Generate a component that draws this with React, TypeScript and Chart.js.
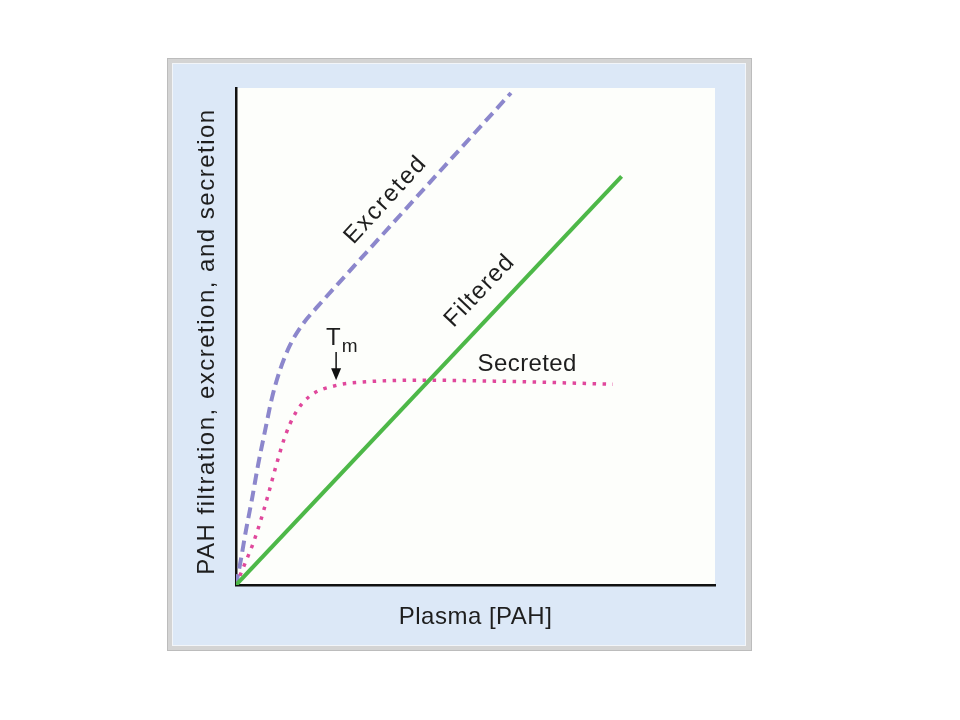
import React, { useEffect, useRef } from 'react';
import { Chart, registerables } from 'chart.js';
Chart.register(...registerables);

// Series (x = plasma [PAH], y = PAH amount, arbitrary 0-100 units)
const filteredX = [0, 80.5];
const filteredY = [0, 82.2];

const secretedX = [0, 1.9, 3.5, 5.0, 6.7, 8.4, 10.2, 12.3, 15.4, 21.1, 25.9, 38.4, 55.1, 78.7];
const secretedY = [0, 4.4, 8.2, 12.5, 18.1, 24.1, 29.8, 34.4, 38.0, 40.2, 40.8, 41.2, 41.0, 40.4];

const excretedX = [0, 1.0, 2.1, 3.3, 4.6, 6.1, 7.5, 9.2, 11.3, 13.8, 17.1, 21.3, 57.4];
const excretedY = [0, 5.0, 11.1, 17.1, 24.1, 31.2, 37.6, 43.3, 48.3, 52.3, 56.1, 60.6, 99.0];

// Annotations (data coordinates)
const labelTexts = ['Excreted', 'Filtered', 'Secreted'];
const labelX = [31.3, 50.9, 60.8];
const labelY = [77.5, 59.2, 44.3];
const labelAngle = [-47.5, -46.5, 0];
const tmX = 18.8;
const tmY = 48.3;
const tmSubX = 22.1;
const tmSubY = 46.9;
const arrowX = 20.9;
const arrowTop = 46.9;
const arrowTip = 41.2;

const xTitle = 'Plasma [PAH]';
const yTitle = 'PAH filtration, excretion, and secretion';

const FONT = '"Liberation Sans", Arial, Helvetica, sans-serif';

function drawText(ctx: CanvasRenderingContext2D, text: string, x: number, y: number, size: number, spacing: number, angle: number, align: CanvasTextAlign = 'center', baseline: CanvasTextBaseline = 'middle') {
  ctx.save();
  ctx.translate(x, y);
  ctx.rotate((angle * Math.PI) / 180);
  ctx.font = `${size}px ${FONT}`;
  (ctx as any).letterSpacing = spacing + 'px';
  ctx.textAlign = align;
  ctx.textBaseline = baseline;
  ctx.fillStyle = '#1e1e1e';
  ctx.fillText(text, 0, 0);
  ctx.restore();
}

const annotatePlugin = {
  id: 'annotate',
  beforeDraw(chart: any) {
    const { ctx, chartArea: a } = chart;
    ctx.save();
    ctx.fillStyle = '#fdfefb';
    ctx.fillRect(a.left, a.top, a.right - a.left, a.bottom - a.top);
    ctx.restore();
  },
  afterDraw(chart: any) {
    const { ctx, chartArea: a, scales } = chart;
    const xs = scales.x;
    const ys = scales.y;
    const spacings = [2.0, 1.3, 0.4];
    const sizes = [24, 24, 24];
    labelTexts.forEach((t, i) => {
      drawText(ctx, t, xs.getPixelForValue(labelX[i]), ys.getPixelForValue(labelY[i]), sizes[i], spacings[i], labelAngle[i]);
    });
    // T_m
    drawText(ctx, 'T', xs.getPixelForValue(tmX), ys.getPixelForValue(tmY), 24, 0, 0, 'left', 'alphabetic');
    drawText(ctx, 'm', xs.getPixelForValue(tmSubX), ys.getPixelForValue(tmSubY), 19, 0, 0, 'left', 'alphabetic');
    // arrow
    const ax = xs.getPixelForValue(arrowX);
    const aTop = ys.getPixelForValue(arrowTop);
    const aTip = ys.getPixelForValue(arrowTip);
    ctx.save();
    ctx.strokeStyle = '#111';
    ctx.fillStyle = '#111';
    ctx.lineWidth = 1.5;
    ctx.beginPath();
    ctx.moveTo(ax, aTop);
    ctx.lineTo(ax, aTip - 8);
    ctx.stroke();
    ctx.beginPath();
    ctx.moveTo(ax - 5, aTip - 12);
    ctx.lineTo(ax + 5, aTip - 12);
    ctx.lineTo(ax, aTip);
    ctx.closePath();
    ctx.fill();
    ctx.restore();
    // axis titles
    drawText(ctx, xTitle, (a.left + a.right) / 2, a.bottom + 32, 24, 0.5, 0);
    drawText(ctx, yTitle, a.left - 29, (a.top + a.bottom) / 2 + 5, 24, 1.5, -90);
  },
};

export default function App() {
  const ref = useRef<HTMLCanvasElement | null>(null);
  useEffect(() => {
    if (!ref.current) return;
    const toPts = (xs: number[], ys: number[]) => xs.map((x, i) => ({ x, y: ys[i] }));
    const chart = new Chart(ref.current, {
      type: 'line',
      data: {
        datasets: [
          {
            label: 'Filtered',
            data: toPts(filteredX, filteredY),
            borderColor: '#4db848',
            borderWidth: 4,
            pointRadius: 0,
            tension: 0,
          },
          {
            label: 'Secreted',
            data: toPts(secretedX, secretedY),
            borderColor: '#e0489c',
            borderWidth: 3.5,
            borderDash: [3.5, 6.5],
            pointRadius: 0,
            cubicInterpolationMode: 'monotone',
          },
          {
            label: 'Excreted',
            data: toPts(excretedX, excretedY),
            borderColor: '#8c87cc',
            borderWidth: 4,
            borderDash: [11, 6],
            pointRadius: 0,
            cubicInterpolationMode: 'monotone',
          },
        ],
      },
      options: {
        animation: false,
        responsive: true,
        maintainAspectRatio: false,
        layout: { padding: { left: 63, right: 30, top: 25, bottom: 60 } },
        plugins: { legend: { display: false }, tooltip: { enabled: false } },
        scales: {
          x: {
            type: 'linear',
            min: 0,
            max: 100,
            ticks: { display: false },
            grid: { display: false, drawTicks: false },
            border: { display: true, color: '#111', width: 2.5 },
          },
          y: {
            type: 'linear',
            min: 0,
            max: 100,
            ticks: { display: false },
            grid: { display: false, drawTicks: false },
            border: { display: true, color: '#111', width: 2.5 },
          },
        },
      },
      plugins: [annotatePlugin],
    } as any);
    return () => chart.destroy();
  }, []);

  return (
    <div style={{ position: 'fixed', left: 0, top: 0, width: 960, height: 720, background: '#ffffff' }}>
      <div
        style={{
          position: 'absolute',
          left: 167,
          top: 58,
          width: 585,
          height: 593,
          boxSizing: 'border-box',
          background: '#d4d4d4',
          border: '1px solid #bcbcbc',
        }}
      />
      <div
        style={{
          position: 'absolute',
          left: 172,
          top: 63,
          width: 574,
          height: 583,
          boxSizing: 'border-box',
          background: '#dce8f7',
          border: '1px solid #f2f5f9',
        }}
      />
      <div style={{ position: 'absolute', left: 173, top: 63, width: 572, height: 582 }}>
        <canvas ref={ref} />
      </div>
    </div>
  );
}
